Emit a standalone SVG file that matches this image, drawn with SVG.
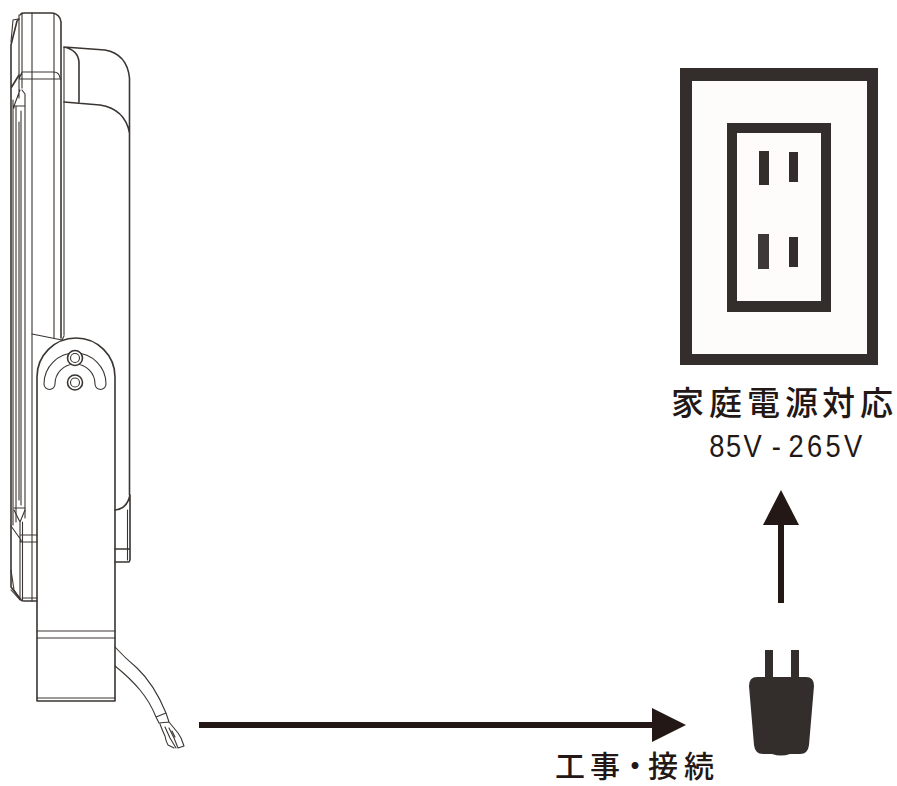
<svg xmlns="http://www.w3.org/2000/svg" width="897" height="786" viewBox="0 0 897 786">
<style>
.l{fill:none;stroke:#3a3532;stroke-width:1.100;stroke-linecap:round;stroke-linejoin:round}
.h{stroke-width:1.600}
.d{fill:#332e2b}
.t{fill:#231815;font-family:"Noto Sans CJK JP","Liberation Sans",sans-serif;font-size:33px;font-weight:500}
.n{fill:#231815;font-family:"Liberation Sans",sans-serif;font-size:31px}
.a{fill:none;stroke:#231815;stroke-width:6}
.ah{fill:#231815}
</style>
<rect width="897" height="786" fill="#fff"/>
<g id="lamp">
<path class="l h" d="M11 45V587L20 599Q21 601 24 601H37M11 45L17 21L19 19M11 88L19 75M20 15Q21 13 24 13H52Q60 14 61 22V338"/>
<path class="l" d="M13 20L11 42M13 20L18 19M13 100V525M16 106V522M19 15V98M19 122V500M21 111V505M25 94V518M22 13V88M32 13V601M54 13V338M64 47V335M20 90L14 106H25L25 94L22 90M14 106V108M19 79H61M22 72H54Q59 72 60 78M19 79L22 72"/>
<path class="l h" d="M64 47L105 50Q127 54 129.500 78V133M64 102L100 105Q125 109 129.500 133V495M64 47Q78 50 79 62V102"/>
<path class="l" d="M32 334L62 340L64 336"/>
<path class="l" d="M14 510L20 522L25 510M14 508H25M20 522V600M22.500 522V600M11 526L21 540V542H37M21 535H37M11 570L14 590L22 601M11 590L20 600M22 598H37"/>
<path class="l h" d="M37 377A39 39 0 0 1 115 377V701H37V377"/>
<path class="l" d="M37 631H115M37 638H115M37 698H115"/>
<path class="l" d="M44 384A31 31 0 0 1 106 384A5.500 5.500 0 0 1 95 384A20 20 0 0 0 55 384A5.500 5.500 0 0 1 44 384Z"/>
<circle class="l h" cx="75" cy="358" r="7.500" style="fill:#fff"/>
<circle class="l" cx="75" cy="358" r="4.500"/>
<circle class="l h" cx="75" cy="382.500" r="7.500" style="fill:#fff"/>
<circle class="l" cx="75" cy="382.500" r="4.500"/>
<path class="l h" d="M115 510Q127 509 130 495V560L129 562H115M115 549H129"/>
<path class="l" d="M127.500 510V560"/>
<path class="l" d="M115 647Q125 658 137 668Q154 684 166 713M115 666Q130 678 140 690Q150 702 156 717M156 717L166 713L169 722L159 723ZM160 724Q163 732 165 736Q166 742 168 745L174 748M169 722L178 733L181 738L184 746L178 748L174 738L169 728M165 727L170 738L176 748M172 731L175 737"/>
</g>
<g id="outlet">
<rect class="d" x="680" y="68" width="198" height="297"/>
<rect x="692" y="81" width="175" height="273" fill="#fdfcfb"/>
<rect class="d" x="727" y="123" width="104" height="189"/>
<rect x="737" y="133" width="84" height="168" fill="#fdfcfb"/>
<rect class="d" x="759" y="151" width="10" height="34"/>
<rect class="d" x="789" y="152" width="9" height="30"/>
<rect x="758" y="234" width="11" height="35" fill="#3e3936"/>
<rect class="d" x="789" y="237" width="9" height="30"/>
</g>
<g id="plug">
<rect class="d" x="765" y="650" width="8" height="30"/>
<rect class="d" x="791" y="650" width="8" height="30"/>
<path class="d" d="M757 677H806Q814 677 814 686L809 745Q808 754 800 754H790Q781 757 772 754H763Q755 754 754 745L749 686Q749 677 757 677Z"/>
</g>
<g id="connectors">
<path class="a" d="M199 725H654"/>
<polygon class="ah" points="652,708 686,725 652,742"/>
<path class="a" d="M781 603V523"/>
<polygon class="ah" points="781,490 799,525 763,525"/>
</g>
<g id="label-power">
<text class="t" y="415" x="671 709 747 785 822 860">家庭電源対応</text>
<text class="n" transform="scale(.88 1)" y="457" x="806 825 845 877 896 917 938 959">85V-265V</text>
</g>
<g id="label-work">
<text class="t" y="777" x="555 590 620 648 684" style="font-size:30px">工事・接続</text>
</g>
</svg>
